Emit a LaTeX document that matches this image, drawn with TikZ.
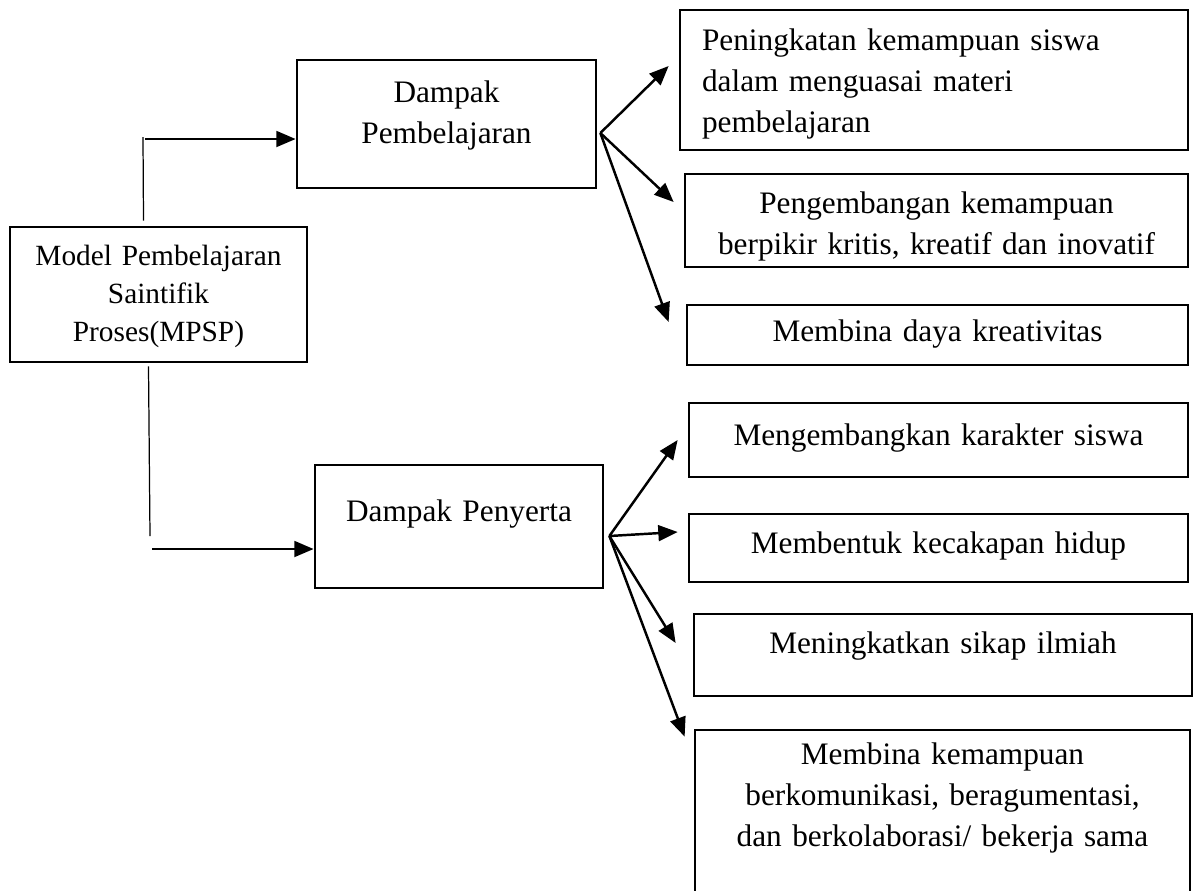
\documentclass[tikz,border=0pt]{standalone}
\usepackage{fontspec}
\setmainfont{Liberation Serif}
\usetikzlibrary{arrows.meta,calc}

\begin{document}
\begin{tikzpicture}[x=0.02cm,y=-0.02cm,>={Triangle[length=11pt,width=9pt]},
  every node/.style={font=\fontsize{17.8pt}{23.3pt}\selectfont,align=center},
  box/.style={draw,line width=1.6pt,inner sep=2pt,text height=13.3pt,text depth=4.4pt},
  link/.style={->,line width=1.4pt},
  stem/.style={line width=0.7pt}]
  \useasboundingbox (0,0) rectangle (1197,890);
  \clip (0,0) rectangle (1197,890);
  \node[box,minimum width=5.94cm,minimum height=2.7cm,text width=5.5cm,font=\fontsize{16.7pt}{21.6pt}\selectfont,text height=12.5pt,text depth=45.6pt] (model) at (158.5,294.5) {Model Pembelajaran\\Saintifik\\Proses(MPSP)};
  \node[box,minimum width=5.98cm,minimum height=2.56cm,text width=5.5cm,text depth=37.4pt] (dp) at (446.5,124) {Dampak\\Pembelajaran};
  \node[box,minimum width=5.76cm,minimum height=2.46cm,text width=5.3cm,text depth=18.6pt] (dpy) at (459,526.5) {Dampak Penyerta};
  \node[box,minimum width=10.16cm,minimum height=2.8cm,text width=9.28cm,align=left,text depth=46.8pt] (pen) at (934,80) {Peningkatan kemampuan siswa\\dalam menguasai materi\\pembelajaran};
  \node[box,minimum width=10.06cm,minimum height=1.86cm,text width=9.6cm,text depth=20.8pt] (peng) at (936.5,220.5) {Pengembangan kemampuan\\berpikir kritis, kreatif dan inovatif};
  \node[box,minimum width=10.02cm,minimum height=1.2cm,text width=9.5cm,text depth=5.6pt] (mdk) at (937.5,335) {Membina daya kreativitas};
  \node[box,minimum width=9.98cm,minimum height=1.48cm,text width=9.5cm,text depth=6.7pt] (mk) at (938.5,440) {Mengembangkan karakter siswa};
  \node[box,minimum width=9.98cm,minimum height=1.36cm,text width=9.5cm,text depth=6.7pt] (mkh) at (938.5,548) {Membentuk kecakapan hidup};
  \node[box,minimum width=9.96cm,minimum height=1.64cm,text width=9.5cm,text depth=14.7pt] (msi) at (943,655) {Meningkatkan sikap ilmiah};
  \node[box,minimum width=9.9cm,minimum height=4.2cm,text width=9.4cm,text depth=93.6pt] (mkb) at (942.5,835) {Membina kemampuan\\berkomunikasi, beragumentasi,\\dan berkolaborasi/ bekerja sama};
  \coordinate (upTop) at (143,137);
  \coordinate (upStart) at (145,139);
  \coordinate (lowEnd) at (150,536);
  \coordinate (lowStart) at (152,549);
  \draw[stem] ($(model.north)+(-15,-5)$) -- (upTop);
  \draw[link] (upStart) -- (upStart -| dp.west);
  \draw[stem] ($(model.south)+(-10,3)$) -- (lowEnd);
  \draw[link] (lowStart) -- (lowStart -| dpy.west);
  \coordinate (fanA) at ($(dp.east)+(3,9)$);
  \draw[link] (fanA) -- ($(pen.west)+(-10,-14)$);
  \draw[link] (fanA) -- ($(peng.west)+(-10,-18.5)$);
  \draw[link] (fanA) -- ($(mdk.west)+(-17,-13)$);
  \coordinate (fanB) at ($(dpy.east)+(5,9.5)$);
  \draw[link] (fanB) -- ($(mk.west)+(-10,0)$);
  \draw[link] (fanB) -- ($(mkh.west)+(-10,-16)$);
  \draw[link] (fanB) -- ($(msi.west)+(-17,-12)$);
  \draw[link] (fanB) -- ($(mkb.north west)+(-9,8)$);
\end{tikzpicture}
\end{document}
